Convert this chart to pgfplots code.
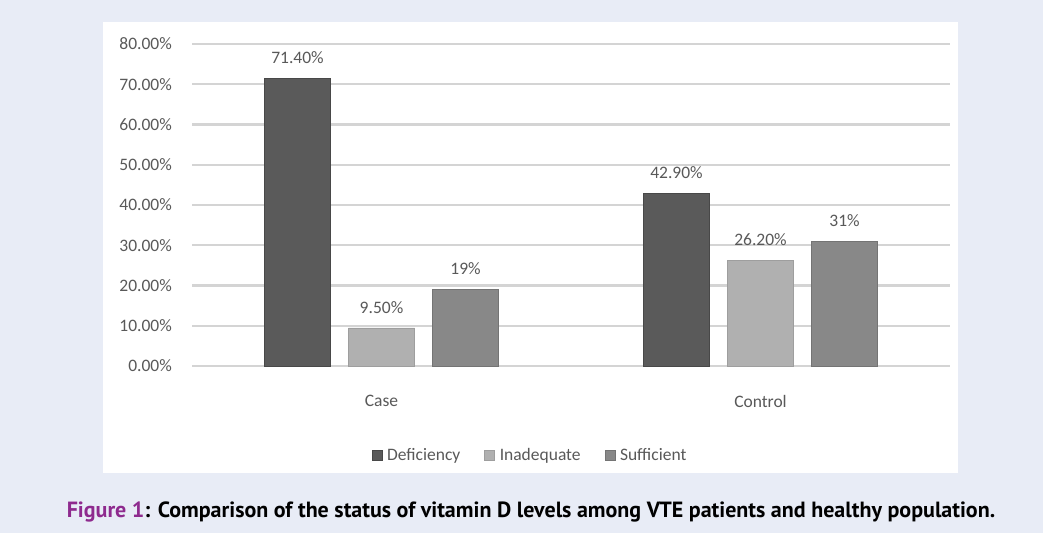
\documentclass[border=0pt]{standalone}
\usepackage{pgfplots}
\pgfplotsset{compat=1.18}
\usepackage{fontspec}
\setmainfont{Carlito}
\newfontfamily\capfont{PT Sans}
\definecolor{bg}{HTML}{E8ECF6}
\definecolor{defc}{HTML}{5A5A5A}
\definecolor{inac}{HTML}{B0B0B0}
\definecolor{sufc}{HTML}{888888}
\definecolor{txt}{HTML}{595959}
\definecolor{gridc}{HTML}{D4D4D4}
\definecolor{purp}{HTML}{8E2A8E}
\begin{document}
\begin{tikzpicture}[x=1pt,y=1pt]
\fill[bg] (0,0) rectangle (1043,533);
\fill[white] (103,60) rectangle (958,511);
\begin{axis}[
  at={(192pt,167pt)}, anchor=south west,
  scale only axis, width=758pt, height=322pt,
  xmin=-0.5, xmax=1.5, ymin=0, ymax=80,
  ybar=18pt, bar width=66pt,
  axis line style={draw=none},
  major tick length=0pt,
  ymajorgrids, grid style={line width=2.4pt, color=gridc},
  ytick={0,10,...,80},
  yticklabel={\pgfmathprintnumber[fixed,fixed zerofill,precision=2]{\tick}\%},
  /pgf/number format/assume math mode=true,
  yticklabel style={font=\fontsize{17.5}{20}\selectfont, text=txt, inner sep=0pt, xshift=-20pt},
  xtick={0,1}, xticklabels={Case,Control},
  xticklabel style={font=\fontsize{17.5}{20}\selectfont, text=txt, inner sep=0pt, yshift=-29pt},
  nodes near coords,
  point meta=explicit symbolic,
  nodes near coords style={font=\fontsize{17.5}{20}\selectfont, text=txt, yshift=11pt},
  legend style={at={(0.446,-0.276)}, anchor=center, draw=none, fill=none,
    legend columns=3, font=\fontsize{17.5}{20}\selectfont, text=txt,
    /tikz/every odd column/.append style={column sep=3pt},
    /tikz/every even column/.append style={column sep=22pt}},
  legend image code/.code={\fill[#1] (0pt,-5pt) rectangle (10pt,5pt);},
]
\addplot[fill=defc, draw=defc!80!black] coordinates {(0,71.4) [71.40\%] (1,42.9) [42.90\%]};
\addplot[fill=inac, draw=inac!90!black] coordinates {(0,9.5) [9.50\%] (1,26.2) [26.20\%]};
\addplot[fill=sufc, draw=sufc!85!black] coordinates {(0,19) [19\%] (1,31) [31\%]};
\legend{Deficiency,Inadequate,Sufficient}
\end{axis}
\node at (531,21) {\capfont\bfseries\fontsize{22}{24}\selectfont\textcolor{purp}{Figure 1}: Comparison of the status of vitamin D levels among VTE patients and healthy population.};
\end{tikzpicture}
\end{document}
